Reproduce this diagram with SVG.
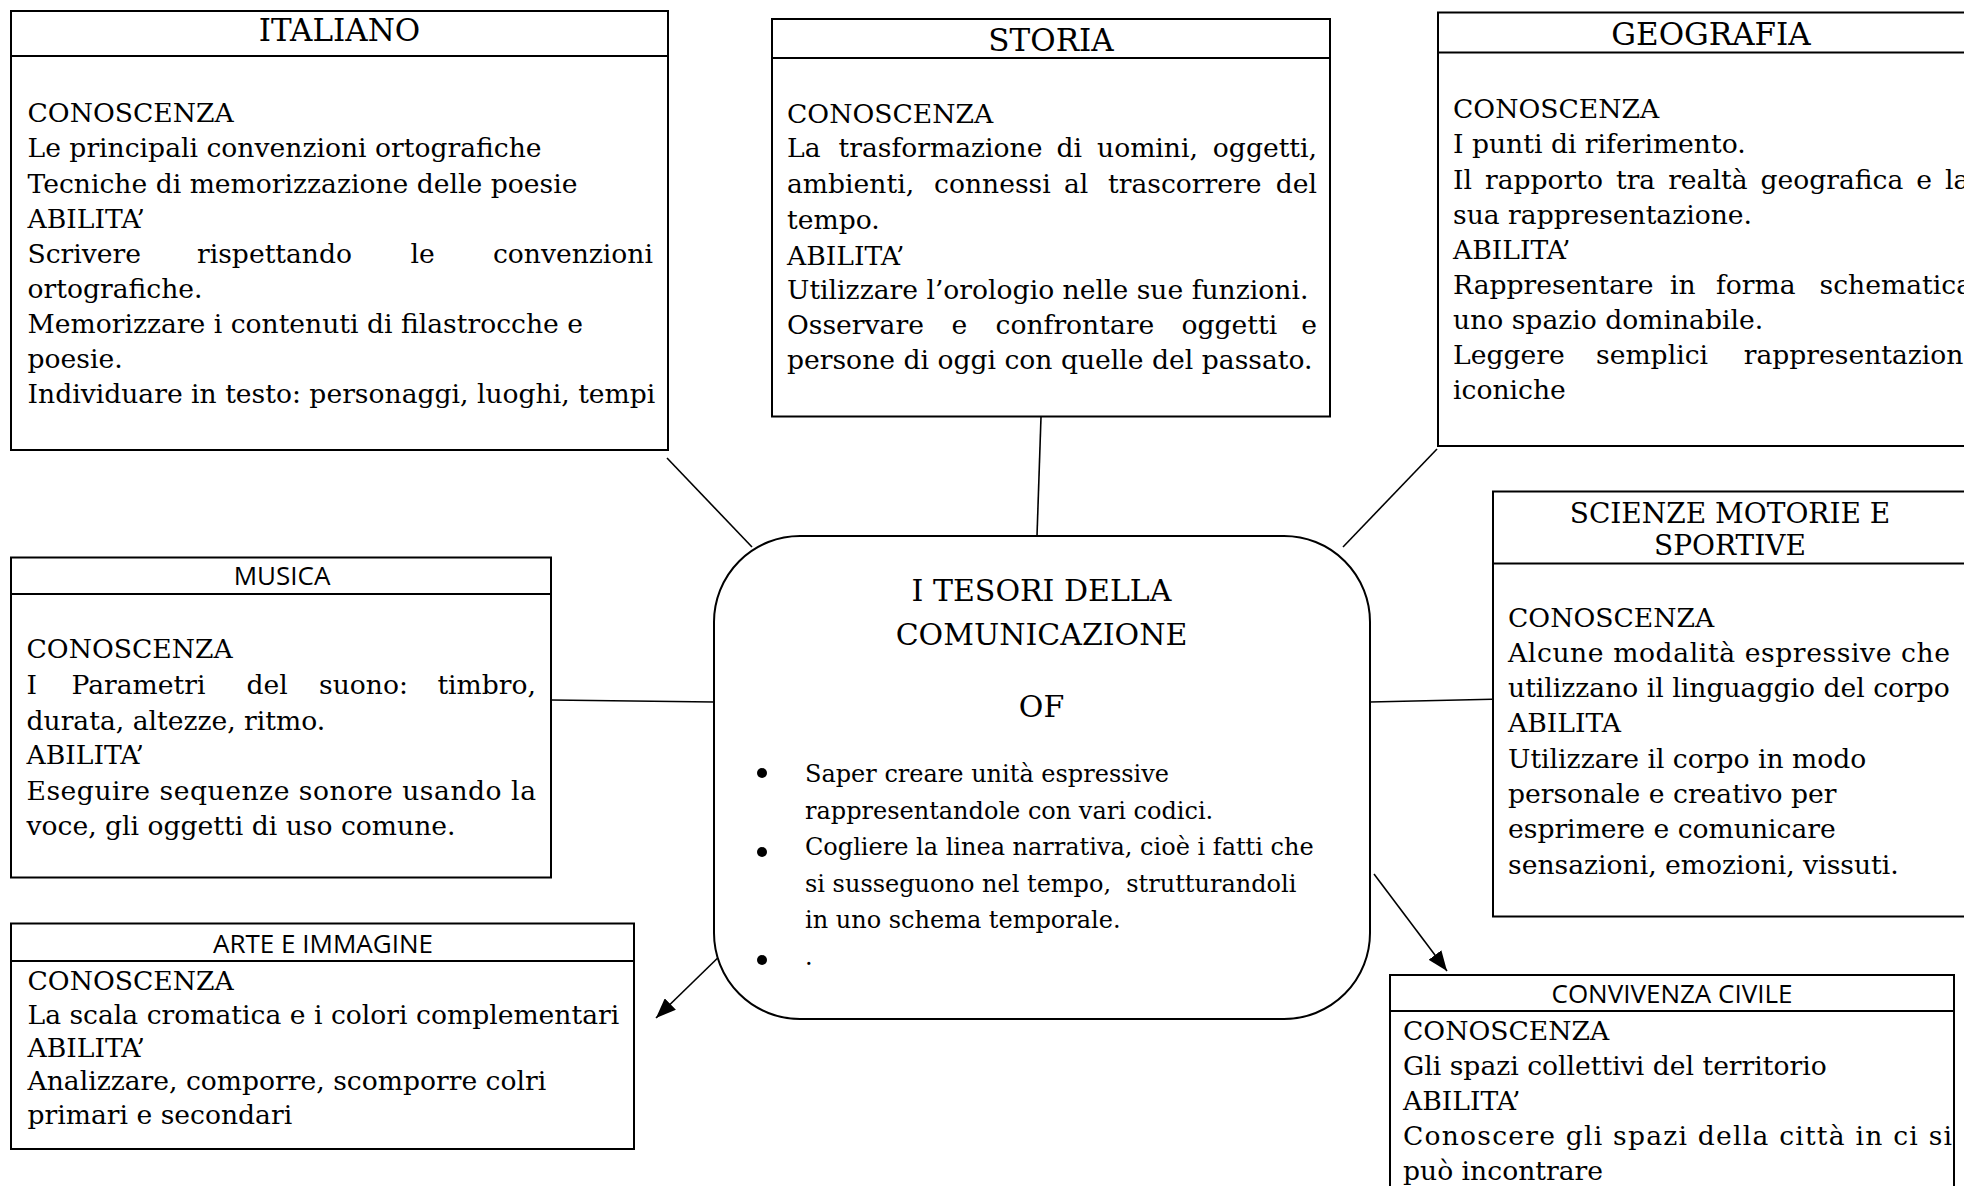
<svg xmlns="http://www.w3.org/2000/svg" width="1964" height="1186" viewBox="0 0 1964 1186">
<style>
.bx{fill:#fff;stroke:#000;stroke-width:2}
.hl{stroke:#000;stroke-width:2}
.cn{stroke:#000;stroke-width:1.6;fill:none}
.t{font-family:"DejaVu Serif",serif;font-size:26.6px;fill:#000}
.h{font-family:"DejaVu Serif",serif;font-size:31px;fill:#000;text-anchor:middle}
.h2{font-family:"DejaVu Serif",serif;font-size:28px;fill:#000;text-anchor:middle}
.s{font-family:"Open Sans","DejaVu Sans",sans-serif;font-size:26px;fill:#000;text-anchor:middle}
.bt{font-family:"DejaVu Serif",serif;font-size:24px;fill:#000}
.ct{font-family:"DejaVu Serif",serif;font-size:30px;fill:#000;text-anchor:middle}
</style>
<defs>
<marker id="ah" markerUnits="userSpaceOnUse" markerWidth="22" markerHeight="16" refX="20" refY="8" orient="auto">
<path d="M0,0 L20,8 L0,16 Z" fill="#000"/>
</marker>
</defs>
<rect width="1964" height="1186" fill="#fff"/>

<g id="connectors">
<line class="cn" x1="667" y1="458" x2="752" y2="547"/>
<line class="cn" x1="1041" y1="417" x2="1037" y2="536"/>
<line class="cn" x1="1437" y1="449" x2="1343" y2="547"/>
<line class="cn" x1="551" y1="700" x2="714" y2="702"/>
<line class="cn" x1="1370" y1="702" x2="1503" y2="699"/>
<line class="cn" x1="729" y1="947" x2="656" y2="1018" marker-end="url(#ah)"/>
<line class="cn" x1="1374" y1="874" x2="1447" y2="971" marker-end="url(#ah)"/>
</g>

<g id="italiano">
<rect class="bx" x="11" y="11" width="657" height="439"/>
<line class="hl" x1="11" y1="56" x2="668" y2="56"/>
<text class="h" x="339.5" y="41">ITALIANO</text>
<text class="t" x="27.5" y="122">CONOSCENZA</text>
<text class="t" x="27.5" y="157">Le principali convenzioni ortografiche</text>
<text class="t" x="27.5" y="192.5">Tecniche di memorizzazione delle poesie</text>
<text class="t" x="27.5" y="228">ABILITA’</text>
<text class="t" y="263"><tspan x="27.5">Scrivere</tspan><tspan x="197">rispettando</tspan><tspan x="410.5">le</tspan><tspan x="653" text-anchor="end">convenzioni</tspan></text>
<text class="t" x="27.5" y="298">ortografiche.</text>
<text class="t" x="27.5" y="333">Memorizzare i contenuti di filastrocche e</text>
<text class="t" x="27.5" y="368">poesie.</text>
<text class="t" x="27.5" y="403">Individuare in testo: personaggi, luoghi, tempi</text>
</g>

<g id="storia">
<rect class="bx" x="772" y="19" width="558" height="397.5"/>
<line class="hl" x1="772" y1="58" x2="1330" y2="58"/>
<text class="h" x="1051" y="50.5">STORIA</text>
<text class="t" x="787" y="123">CONOSCENZA</text>
<text class="t" y="157"><tspan x="787">La</tspan><tspan x="838.5">trasformazione</tspan><tspan x="1056.5">di</tspan><tspan x="1097">uomini,</tspan><tspan x="1317" text-anchor="end">oggetti,</tspan></text>
<text class="t" y="193"><tspan x="787">ambienti,</tspan><tspan x="934">connessi</tspan><tspan x="1064">al</tspan><tspan x="1108">trascorrere</tspan><tspan x="1317" text-anchor="end">del</tspan></text>
<text class="t" x="787" y="229">tempo.</text>
<text class="t" x="787" y="265">ABILITA’</text>
<text class="t" x="787" y="299">Utilizzare l’orologio nelle sue funzioni.</text>
<text class="t" y="334"><tspan x="787">Osservare</tspan><tspan x="951.5">e</tspan><tspan x="995.5">confrontare</tspan><tspan x="1181.5">oggetti</tspan><tspan x="1317" text-anchor="end">e</tspan></text>
<text class="t" x="787" y="369">persone di oggi con quelle del passato.</text>
</g>

<g id="geografia">
<rect class="bx" x="1438" y="12.5" width="546" height="433.5"/>
<line class="hl" x1="1438" y1="52.5" x2="1984" y2="52.5"/>
<text class="h" x="1711" y="45">GEOGRAFIA</text>
<text class="t" x="1453" y="118">CONOSCENZA</text>
<text class="t" x="1453" y="153">I punti di riferimento.</text>
<text class="t" x="1453" y="188.5" word-spacing="4.5">Il rapporto tra realtà geografica e la</text>
<text class="t" x="1453" y="223.5">sua rappresentazione.</text>
<text class="t" x="1453" y="258.5">ABILITA’</text>
<text class="t" y="293.5"><tspan x="1453">Rappresentare</tspan><tspan x="1670">in</tspan><tspan x="1716">forma</tspan><tspan x="1972" text-anchor="end">schematica</tspan></text>
<text class="t" x="1453" y="329">uno spazio dominabile.</text>
<text class="t" y="364"><tspan x="1453">Leggere</tspan><tspan x="1596">semplici</tspan><tspan x="1972" text-anchor="end">rappresentazioni</tspan></text>
<text class="t" x="1453" y="399">iconiche</text>
</g>

<g id="scienze">
<rect class="bx" x="1493" y="491.5" width="474" height="425"/>
<line class="hl" x1="1493" y1="563.5" x2="1967" y2="563.5"/>
<text class="h2" x="1730" y="522.5">SCIENZE MOTORIE E</text>
<text class="h2" x="1730" y="555">SPORTIVE</text>
<text class="t" x="1508" y="627">CONOSCENZA</text>
<text class="t" x="1508" y="662" textLength="442" lengthAdjust="spacing">Alcune modalità espressive che</text>
<text class="t" x="1508" y="697">utilizzano il linguaggio del corpo</text>
<text class="t" x="1508" y="732">ABILITA</text>
<text class="t" x="1508" y="768">Utilizzare il corpo in modo</text>
<text class="t" x="1508" y="803">personale e creativo per</text>
<text class="t" x="1508" y="838">esprimere e comunicare</text>
<text class="t" x="1508" y="874">sensazioni, emozioni, vissuti.</text>
</g>

<g id="musica">
<rect class="bx" x="11" y="557.5" width="540" height="320"/>
<line class="hl" x1="11" y1="594" x2="551" y2="594"/>
<text class="s" x="282" y="585">MUSICA</text>
<text class="t" x="26.5" y="658">CONOSCENZA</text>
<text class="t" y="694"><tspan x="26.5">I</tspan><tspan x="71.5">Parametri</tspan><tspan x="246.5">del</tspan><tspan x="319">suono:</tspan><tspan x="536" text-anchor="end">timbro,</tspan></text>
<text class="t" x="26.5" y="729.5">durata, altezze, ritmo.</text>
<text class="t" x="26.5" y="764">ABILITA’</text>
<text class="t" x="26.5" y="799.5" textLength="509.5" lengthAdjust="spacing">Eseguire sequenze sonore usando la</text>
<text class="t" x="26.5" y="835">voce, gli oggetti di uso comune.</text>
</g>

<g id="arte">
<rect class="bx" x="11" y="923.5" width="623" height="225.5"/>
<line class="hl" x1="11" y1="961" x2="634" y2="961"/>
<text class="s" x="323" y="953">ARTE E IMMAGINE</text>
<text class="t" x="27.5" y="990">CONOSCENZA</text>
<text class="t" x="27.5" y="1023.5">La scala cromatica e i colori complementari</text>
<text class="t" x="27.5" y="1057">ABILITA’</text>
<text class="t" x="27.5" y="1090">Analizzare, comporre, scomporre colri</text>
<text class="t" x="27.5" y="1123.5">primari e secondari</text>
</g>

<g id="convivenza">
<rect class="bx" x="1390" y="975" width="564" height="240"/>
<line class="hl" x1="1390" y1="1011" x2="1954" y2="1011"/>
<text class="s" x="1672" y="1003">CONVIVENZA CIVILE</text>
<text class="t" x="1403" y="1040">CONOSCENZA</text>
<text class="t" x="1403" y="1075">Gli spazi collettivi del territorio</text>
<text class="t" x="1403" y="1110">ABILITA’</text>
<text class="t" x="1403" y="1145" textLength="549" lengthAdjust="spacing">Conoscere gli spazi della città in ci si</text>
<text class="t" x="1403" y="1180">può incontrare</text>
</g>

<g id="centro">
<rect class="bx" x="714" y="536" width="656" height="483" rx="86" ry="86"/>
<text class="ct" x="1041.5" y="600.5">I TESORI DELLA</text>
<text class="ct" x="1041.5" y="645">COMUNICAZIONE</text>
<text class="ct" x="1041.5" y="716.5">OF</text>
<circle cx="762" cy="773" r="5" fill="#000"/>
<circle cx="762" cy="852" r="5" fill="#000"/>
<circle cx="762" cy="960" r="5" fill="#000"/>
<text class="bt" x="805" y="782">Saper creare unità espressive</text>
<text class="bt" x="805" y="819">rappresentandole con vari codici.</text>
<text class="bt" x="805" y="855">Cogliere la linea narrativa, cioè i fatti che</text>
<text class="bt" x="805" y="891.5">si susseguono nel tempo,&#160; strutturandoli</text>
<text class="bt" x="805" y="928">in uno schema temporale.</text>
<text class="bt" x="805" y="965">.</text>
</g>
</svg>
